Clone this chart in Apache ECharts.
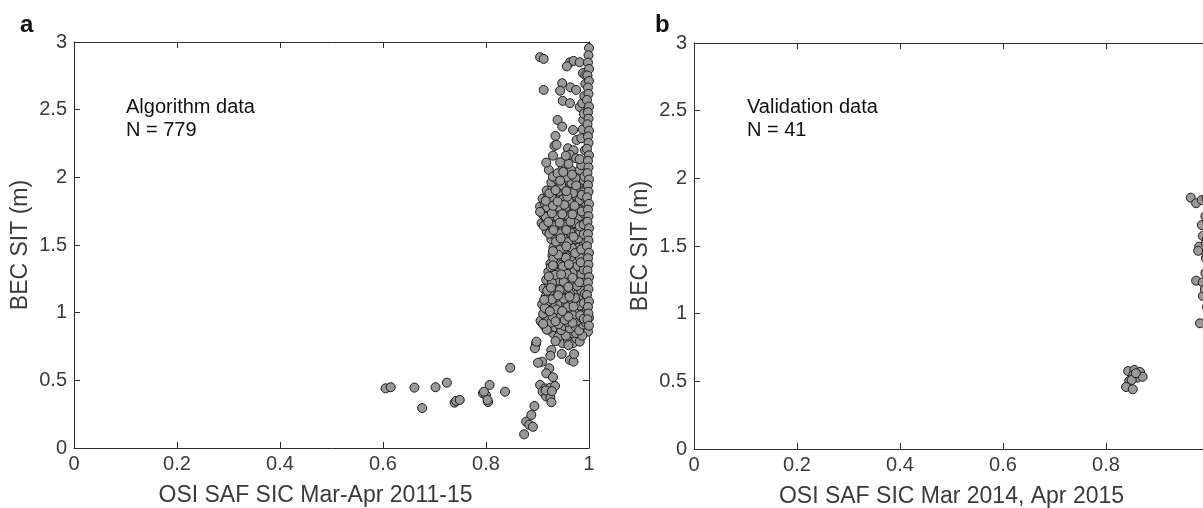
<!DOCTYPE html>
<html>
<head>
<meta charset="utf-8">
<script src="https://cdn.jsdelivr.net/npm/echarts@6/dist/echarts.min.js"></script>
<style>
html,body{margin:0;padding:0;background:#fff;}
#chart{width:1203px;height:508px;}
</style>
</head>
<body>
<div id="chart"></div>
<script>
// ---- Tick labels / axis settings ----
const xTicks = [0, 0.2, 0.4, 0.6, 0.8, 1];
const yTicks = [0, 0.5, 1, 1.5, 2, 2.5, 3];

// ---- Panel a: Algorithm data (OSI SAF SIC, BEC SIT) ----
const algLow = [
  [0.605,0.441],[0.615,0.449],[0.661,0.446],[0.676,0.295],[0.702,0.449],[0.724,0.483],
  [0.739,0.335],[0.742,0.348],[0.749,0.355],[0.794,0.404],[0.800,0.390],[0.796,0.416],
  [0.804,0.340],[0.803,0.355],[0.807,0.466],[0.837,0.416],[0.847,0.593],[0.874,0.101],
  [0.878,0.195],[0.884,0.172],[0.891,0.157],[0.888,0.244],[0.894,0.310],
  [0.905,0.466],[0.915,0.440],[0.925,0.446],[0.934,0.458],[0.910,0.416],[0.920,0.404],
  [0.917,0.380],[0.925,0.372],[0.927,0.338],[0.916,0.425],[0.928,0.420],
  [0.923,0.589],[0.917,0.552],[0.930,0.523],[0.909,0.638],[0.901,0.630]
];
const algMid = [
  [0.897,0.770],[0.895,0.737],[0.898,0.786],[0.927,0.724],[0.925,0.682],[0.947,0.695],
  [0.963,0.650],[0.970,0.638],[0.971,0.695],[0.972,0.788],[0.985,0.860],[0.998,0.860],
  [1.000,0.963],[0.907,0.934],[0.920,0.885],[0.930,0.848],[0.943,0.860],[0.949,0.774],
  [0.959,0.798],[0.969,0.774],[0.975,0.811],[0.982,0.786],[0.965,0.848],[0.975,0.848],
  [0.940,0.820],[0.955,0.830],[0.935,0.790],[0.960,0.760],[0.987,0.830]
];
const algCore = [
  [0.913,0.905],[0.921,0.878],[0.934,0.893],[0.946,0.871],[0.952,0.902],[0.963,0.884],[0.974,0.897],[0.981,0.868],[0.989,0.912],
  [0.906,0.941],[0.917,0.956],[0.926,0.928],[0.939,0.949],[0.947,0.965],[0.958,0.932],[0.966,0.958],[0.977,0.941],[0.986,0.962],[0.993,0.930],
  [0.911,0.992],[0.919,1.021],[0.930,1.003],[0.942,0.988],[0.951,1.027],[0.962,1.008],[0.971,0.985],[0.979,1.031],[0.988,1.002],[0.995,1.018],
  [0.909,1.062],[0.922,1.085],[0.935,1.051],[0.944,1.078],[0.956,1.064],[0.967,1.092],[0.975,1.057],[0.984,1.081],[0.992,1.048],
  [0.916,1.121],[0.927,1.147],[0.936,1.113],[0.949,1.138],[0.958,1.155],[0.969,1.119],[0.978,1.144],[0.987,1.126],
  [0.912,1.178],[0.923,1.204],[0.934,1.185],[0.945,1.213],[0.955,1.176],[0.964,1.199],[0.973,1.218],[0.982,1.183],[0.991,1.207],
  [0.917,1.243],[0.929,1.267],[0.940,1.238],[0.951,1.259],[0.961,1.274],[0.970,1.235],[0.980,1.262],[0.989,1.248],
  [0.921,1.302],[0.931,1.327],[0.943,1.296],[0.953,1.318],[0.962,1.335],[0.972,1.305],[0.983,1.322],[0.993,1.291],
  [0.925,1.362],[0.936,1.384],[0.947,1.355],[0.957,1.378],[0.966,1.397],[0.976,1.366],[0.986,1.389],
  [0.929,1.421],[0.938,1.447],[0.950,1.413],[0.960,1.438],[0.969,1.456],[0.979,1.426],[0.988,1.449],[0.994,1.414],
  [0.931,1.482],[0.941,1.507],[0.952,1.474],[0.963,1.496],[0.971,1.516],[0.981,1.485],[0.990,1.503],
  [0.927,1.543],[0.935,1.566],[0.946,1.532],[0.955,1.557],[0.965,1.576],[0.974,1.541],[0.984,1.563],[0.992,1.538],
  [0.918,1.602],[0.929,1.624],[0.939,1.595],[0.950,1.617],[0.959,1.638],[0.968,1.604],[0.978,1.629],[0.987,1.611],
  [0.908,1.662],[0.917,1.688],[0.926,1.655],[0.937,1.679],[0.948,1.697],[0.957,1.664],[0.967,1.686],[0.976,1.652],[0.985,1.675],[0.993,1.693],
  [0.911,1.722],[0.921,1.748],[0.932,1.715],[0.943,1.737],[0.953,1.756],[0.962,1.724],[0.972,1.745],[0.981,1.711],[0.990,1.733],
  [0.905,1.784],[0.914,1.807],[0.925,1.775],[0.936,1.798],[0.947,1.816],[0.956,1.782],[0.966,1.804],[0.975,1.771],[0.984,1.795],[0.992,1.818],
  [0.910,1.843],[0.921,1.867],[0.933,1.835],[0.944,1.858],[0.953,1.876],[0.963,1.842],[0.973,1.864],[0.982,1.832],[0.991,1.855],
  [0.918,1.903],[0.929,1.926],[0.941,1.895],[0.952,1.917],[0.961,1.935],[0.970,1.901],[0.980,1.923],[0.989,1.889],
  [0.927,1.962],[0.938,1.984],[0.950,1.955],[0.960,1.976],[0.972,1.991],[0.981,1.958],[0.990,1.979]
];
const algCore2 = [
  [0.918,0.874],[0.941,0.915],[0.968,0.925],[0.929,0.971],[0.953,0.946],[0.983,0.981],[0.914,1.035],[0.937,1.024],
  [0.958,1.041],[0.982,1.052],[0.928,1.098],[0.951,1.103],[0.973,1.108],[0.919,1.162],[0.943,1.167],[0.963,1.139],
  [0.985,1.163],[0.928,1.221],[0.951,1.229],[0.977,1.198],[0.934,1.279],[0.957,1.287],[0.985,1.283],[0.926,1.337],
  [0.949,1.341],[0.978,1.345],[0.931,1.401],[0.955,1.405],[0.982,1.408],[0.944,1.465],[0.967,1.478],[0.936,1.525],
  [0.959,1.521],[0.979,1.548],[0.923,1.583],[0.944,1.585],[0.964,1.592],[0.983,1.597],[0.912,1.641],[0.934,1.643],
  [0.954,1.649],[0.973,1.661],[0.916,1.708],[0.939,1.704],[0.961,1.706],[0.981,1.758],[0.919,1.779],[0.941,1.781],
  [0.961,1.822],[0.928,1.851],[0.949,1.838],[0.969,1.883],[0.923,1.881],[0.946,1.942],[0.966,1.957],[0.935,2.012],
  [0.922,2.055],[0.930,2.005],[0.939,2.030],[0.949,2.080],[0.956,2.000],[0.965,2.055],[0.974,1.993],[0.982,2.055],
  [0.991,2.005],[0.985,2.090],[0.960,2.100]
];
const algCore3 = [
  [0.911,0.918],[0.935,0.936],[0.960,0.970],[0.990,0.955],[0.924,1.010],[0.948,1.012],[0.970,1.045],[0.990,1.070],
  [0.913,1.095],[0.940,1.128],[0.962,1.118],[0.992,1.140],[0.926,1.185],[0.960,1.190],[0.981,1.225],[0.922,1.268],
  [0.946,1.283],[0.968,1.258],[0.990,1.318],[0.930,1.350],[0.961,1.357],[0.984,1.372],[0.940,1.428],[0.973,1.440],
  [0.930,1.455],[0.956,1.490],[0.985,1.467],[0.945,1.550],[0.970,1.560],[0.990,1.580],[0.931,1.610],[0.956,1.611],
  [0.982,1.638],[0.921,1.670],[0.943,1.665],[0.964,1.673],[0.990,1.650],[0.905,1.745],[0.928,1.735],[0.948,1.728],
  [0.968,1.727],[0.986,1.748],[0.930,1.790],[0.952,1.797],[0.972,1.790],[0.916,1.826],[0.939,1.821],[0.958,1.857],
  [0.986,1.870],[0.935,1.905],[0.956,1.898],[0.975,1.940],[0.944,1.975],[0.967,2.020],[0.950,2.040]
];
const algUpper = [
  [0.905,2.888],[0.912,2.875],[0.963,2.850],[0.970,2.860],[0.982,2.850],[0.957,2.820],[0.988,2.770],[0.993,2.755],
  [0.948,2.695],[0.912,2.646],[0.944,2.640],[0.964,2.665],[0.975,2.646],[0.949,2.565],[0.963,2.548],[0.982,2.520],
  [0.987,2.548],[0.989,2.424],[0.939,2.424],[0.948,2.375],[0.969,2.350],[0.988,2.355],[0.935,2.306],[0.933,2.232],
  [0.937,2.240],[0.976,2.276],[0.985,2.289],[0.959,2.215],[0.970,2.200],[0.917,2.109],[0.944,2.111],[0.963,2.166],
  [0.975,2.141],[0.982,2.134],[0.991,2.600],[0.992,2.200],[0.990,2.470],[0.993,2.690],[0.955,2.160],[0.930,2.160]
];
const algEdge = [
  [1.000,2.955],[0.999,2.902],[0.998,2.848],[1.000,2.801],[0.997,2.753],[1.000,2.712],[0.998,2.664],[0.999,2.617],
  [0.996,2.572],[1.000,2.523],[0.998,2.481],[0.999,2.433],[0.997,2.392],[1.000,2.344],[0.998,2.302],[0.999,2.254],
  [0.996,2.211],[1.000,2.163],[0.998,2.122],[0.999,2.073],[0.997,2.031],[1.000,1.984],[0.998,1.942],[0.999,1.893],
  [0.996,1.852],[1.000,1.804],[0.998,1.761],[0.999,1.713],[0.997,1.672],[1.000,1.624],[0.998,1.581],[0.999,1.533],
  [0.996,1.492],[1.000,1.443],[0.998,1.402],[0.999,1.354],[0.997,1.311],[1.000,1.263],[0.998,1.222],[0.999,1.174],
  [0.996,1.131],[1.000,1.083],[0.998,1.042],[0.999,0.994],[0.997,0.951],[1.000,0.904]
];

// ---- Panel b: Validation data ----
const valCluster = [
  [0.843,0.576],[0.855,0.584],[0.866,0.569],[0.853,0.547],[0.861,0.527],[0.871,0.534],
  [0.845,0.503],[0.839,0.458],[0.852,0.441],[0.850,0.510],[0.858,0.560]
];
const valHigh = [
  [0.9645,1.857],[0.975,1.816],[0.986,1.840],[0.986,1.655],[0.988,1.574],[0.981,1.495],
  [0.979,1.465],[0.975,1.244],[0.988,1.232],[0.988,1.131],[0.9825,0.929],
  [0.995,1.850],[0.998,1.780],[0.993,1.720],[1.000,1.620],[0.996,1.550],[0.999,1.470],
  [0.994,1.410],[1.000,1.350],[0.997,1.290],[0.992,1.180],[1.000,1.100],[0.996,1.050],
  [0.999,0.980],[0.994,1.520],[0.997,1.680],[1.000,1.250],[0.995,1.440],[0.998,1.900],[0.993,1.300]
];

const xLabelA = 'OSI SAF SIC Mar-Apr 2011-15';
const xLabelB = 'OSI SAF SIC Mar 2014, Apr 2015';
const yLabel = 'BEC SIT (m)';

const FONT = '"Liberation Sans", Arial, Helvetica, sans-serif';
const AX = '#2b2b2b';
const TXT = '#3a3a3a';

function mainX(gi, name, pad) {
  return {
    type: 'value', gridIndex: gi, min: xTicks[0], max: xTicks[xTicks.length-1], interval: 0.2,
    name: name, nameLocation: 'middle', nameGap: 36,
    nameTextStyle: {fontFamily: FONT, fontSize: 23, color: TXT, padding: pad},
    axisLine: {show: true, lineStyle: {color: AX, width: 1}},
    axisTick: {show: true, inside: true, length: 6, lineStyle: {color: AX}},
    axisLabel: {fontFamily: FONT, fontSize: 20, color: TXT, margin: 6},
    splitLine: {show: false}
  };
}
function topX(gi) {
  return {
    type: 'value', gridIndex: gi, position: 'top', min: 0, max: 1, interval: 0.2,
    axisLine: {show: true, onZero: false, lineStyle: {color: AX, width: 1}},
    axisTick: {show: true, inside: true, length: 6, lineStyle: {color: AX}},
    axisLabel: {show: false}, splitLine: {show: false}
  };
}
function mainY(gi) {
  return {
    type: 'value', gridIndex: gi, min: yTicks[0], max: yTicks[yTicks.length-1], interval: 0.5,
    name: yLabel, nameLocation: 'middle', nameGap: 42,
    nameTextStyle: {fontFamily: FONT, fontSize: 23, color: TXT},
    axisLine: {show: true, lineStyle: {color: AX, width: 1}},
    axisTick: {show: true, inside: true, length: 6, lineStyle: {color: AX}},
    axisLabel: {fontFamily: FONT, fontSize: 20, color: TXT, margin: 7},
    splitLine: {show: false}
  };
}
function rightY(gi) {
  return {
    type: 'value', gridIndex: gi, position: 'right', min: 0, max: 3, interval: 0.5,
    axisLine: {show: true, onZero: false, lineStyle: {color: AX, width: 1}},
    axisTick: {show: true, inside: true, length: 6, lineStyle: {color: AX}},
    axisLabel: {show: false}, splitLine: {show: false}
  };
}

const markerStyle = {color: '#999999', borderColor: '#1c1c1c', borderWidth: 1, opacity: 1};

const chart = echarts.init(document.getElementById('chart'), null, {renderer: 'canvas'});
chart.setOption({
  animation: false,
  backgroundColor: '#ffffff',
  grid: [
    {left: 74, top: 42, width: 515, height: 406, containLabel: false, outerBoundsMode: 'none'},
    {left: 694, top: 43, width: 515, height: 406, containLabel: false, outerBoundsMode: 'none'}
  ],
  xAxis: [mainX(0, xLabelA, [0, 32, 0, 0]), topX(0), mainX(1, xLabelB, [0, 0, 0, 0]), topX(1)],
  yAxis: [mainY(0), rightY(0), mainY(1), rightY(1)],
  series: [
    {type: 'scatter', xAxisIndex: 0, yAxisIndex: 0, symbol: 'circle', symbolSize: 9,
     itemStyle: markerStyle, silent: true,
     data: [].concat(algLow, algMid, algCore, algCore2, algCore3, algUpper, algEdge)},
    {type: 'scatter', xAxisIndex: 2, yAxisIndex: 2, symbol: 'circle', symbolSize: 9,
     itemStyle: markerStyle, silent: true,
     data: [].concat(valCluster, valHigh)}
  ],
  graphic: [
    {type: 'text', x: 20, y: 25, style: {text: 'a', font: 'bold 24px ' + FONT, fill: '#111', verticalAlign: 'middle'}},
    {type: 'text', x: 655, y: 25, style: {text: 'b', font: 'bold 24px ' + FONT, fill: '#111', verticalAlign: 'middle'}},
    {type: 'text', x: 126, y: 107, style: {text: 'Algorithm data', font: '20px ' + FONT, fill: '#111', verticalAlign: 'middle'}},
    {type: 'text', x: 126, y: 130.5, style: {text: 'N = 779', font: '20px ' + FONT, fill: '#111', verticalAlign: 'middle'}},
    {type: 'text', x: 747, y: 107.5, style: {text: 'Validation data', font: '20px ' + FONT, fill: '#111', verticalAlign: 'middle'}},
    {type: 'text', x: 747, y: 130.5, style: {text: 'N = 41', font: '20px ' + FONT, fill: '#111', verticalAlign: 'middle'}}
  ]
});
</script>
</body>
</html>
